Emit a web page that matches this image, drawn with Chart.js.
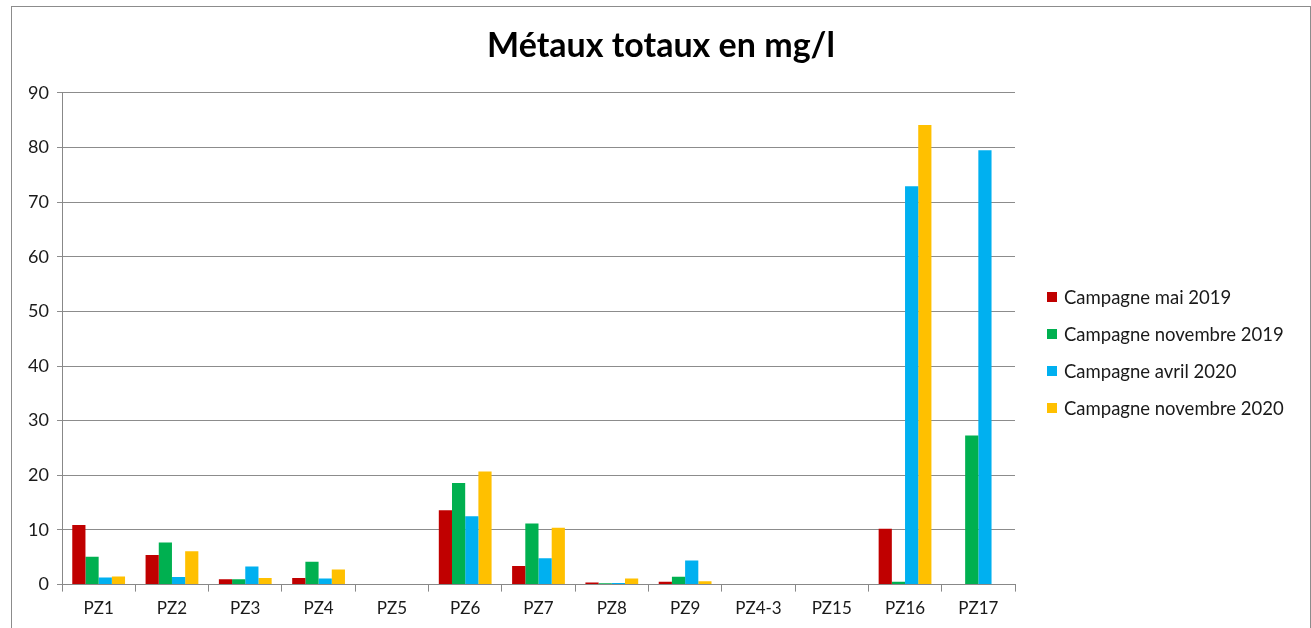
<!DOCTYPE html>
<html>
<head>
<meta charset="utf-8">
<script src="https://cdn.jsdelivr.net/npm/chart.js@4.4.1/dist/chart.umd.min.js"></script>
<style>
  html, body { margin: 0; padding: 0; background: #fff; }
  #cadre { position: absolute; left: 11px; top: 6px; width: 1298px; height: 621px; border: 1px solid #8c8c8c; border-bottom: none; }
  canvas { display: block; }
</style>
</head>
<body>
<div id="cadre"><canvas id="metauxChart" width="1298" height="621"></canvas></div>
<script>
// Données
const piezometres = ['PZ1', 'PZ2', 'PZ3', 'PZ4', 'PZ5', 'PZ6', 'PZ7', 'PZ8', 'PZ9', 'PZ4-3', 'PZ15', 'PZ16', 'PZ17'];
const campagneMai2019 = [10.9, 5.4, 1.0, 1.2, null, 13.6, 3.4, 0.4, 0.5, null, null, 10.2, null];
const campagneNov2019 = [5.1, 7.7, 1.0, 4.2, null, 18.6, 11.2, 0.25, 1.45, null, null, 0.5, 27.3];
const campagneAvr2020 = [1.3, 1.4, 3.3, 1.1, null, 12.5, 4.8, 0.3, 4.4, null, null, 72.9, 79.5];
const campagneNov2020 = [1.5, 6.1, 1.2, 2.75, null, 20.7, 10.4, 1.1, 0.6, null, null, 84.1, null];
const ticksY = [0, 10, 20, 30, 40, 50, 60, 70, 80, 90];

const couleurs = { mai19: '#C00000', nov19: '#00B050', avr20: '#00B0F0', nov20: '#FFC000' };
Chart.defaults.font.family = "Lato, 'Liberation Sans', sans-serif";
Chart.defaults.color = '#1a1a1a';

// Légende dessinée à droite, façon Excel
const legendeExcel = {
    id: 'legendeExcel',
    afterDraw(chart) {
        const ctx = chart.ctx;
        ctx.save();
        ctx.font = "18.5px Lato, 'Liberation Sans', sans-serif";
        ctx.textBaseline = 'middle';
        chart.data.datasets.forEach((ds, i) => {
            const y = 290 + i * 37;
            ctx.fillStyle = ds.backgroundColor;
            ctx.fillRect(1035, y - 5, 10, 10);
            ctx.fillStyle = '#1a1a1a';
            ctx.fillText(ds.label, 1052, y + 1);
        });
        ctx.restore();
    }
};

new Chart(document.getElementById('metauxChart'), {
    type: 'bar',
    data: {
        labels: piezometres,
        datasets: [
            { label: 'Campagne mai 2019', data: campagneMai2019, backgroundColor: couleurs.mai19 },
            { label: 'Campagne novembre 2019', data: campagneNov2019, backgroundColor: couleurs.nov19 },
            { label: 'Campagne avril 2020', data: campagneAvr2020, backgroundColor: couleurs.avr20 },
            { label: 'Campagne novembre 2020', data: campagneNov2020, backgroundColor: couleurs.nov20 }
        ]
    },
    options: {
        responsive: false, animation: false,
        layout: { padding: { left: 0, right: 0, bottom: 2 } },
        datasets: { bar: { categoryPercentage: 0.72, barPercentage: 1.0 } },
        plugins: {
            legend: { display: false },
            tooltip: { enabled: false },
            title: { display: true, text: 'Métaux totaux en mg/l', font: { size: 34, weight: 'bold' }, color: '#000', padding: { top: 19, bottom: 26 } }
        },
        scales: {
            x: {
                grid: { display: true, drawOnChartArea: false, offset: true, tickLength: 7, color: '#888' },
                border: { color: '#888' },
                ticks: { font: { size: 17 }, padding: 7, maxRotation: 0 }
            },
            y: {
                min: 0, max: 90,
                afterFit: (scale) => { scale.width = 50; },
                afterBuildTicks: (scale) => { scale.ticks = ticksY.map(v => ({ value: v })); },
                grid: { color: '#8c8c8c', tickLength: 5 },
                border: { color: '#888' },
                ticks: { font: { size: 18 }, padding: 8 }
            },
            // axe vide à droite : réserve la place de la légende
            place: {
                position: 'right', display: true,
                afterFit: (scale) => { scale.width = 295; },
                grid: { display: false }, border: { display: false },
                ticks: { display: false }
            }
        }
    },
    plugins: [legendeExcel]
});
</script>
</body>
</html>
